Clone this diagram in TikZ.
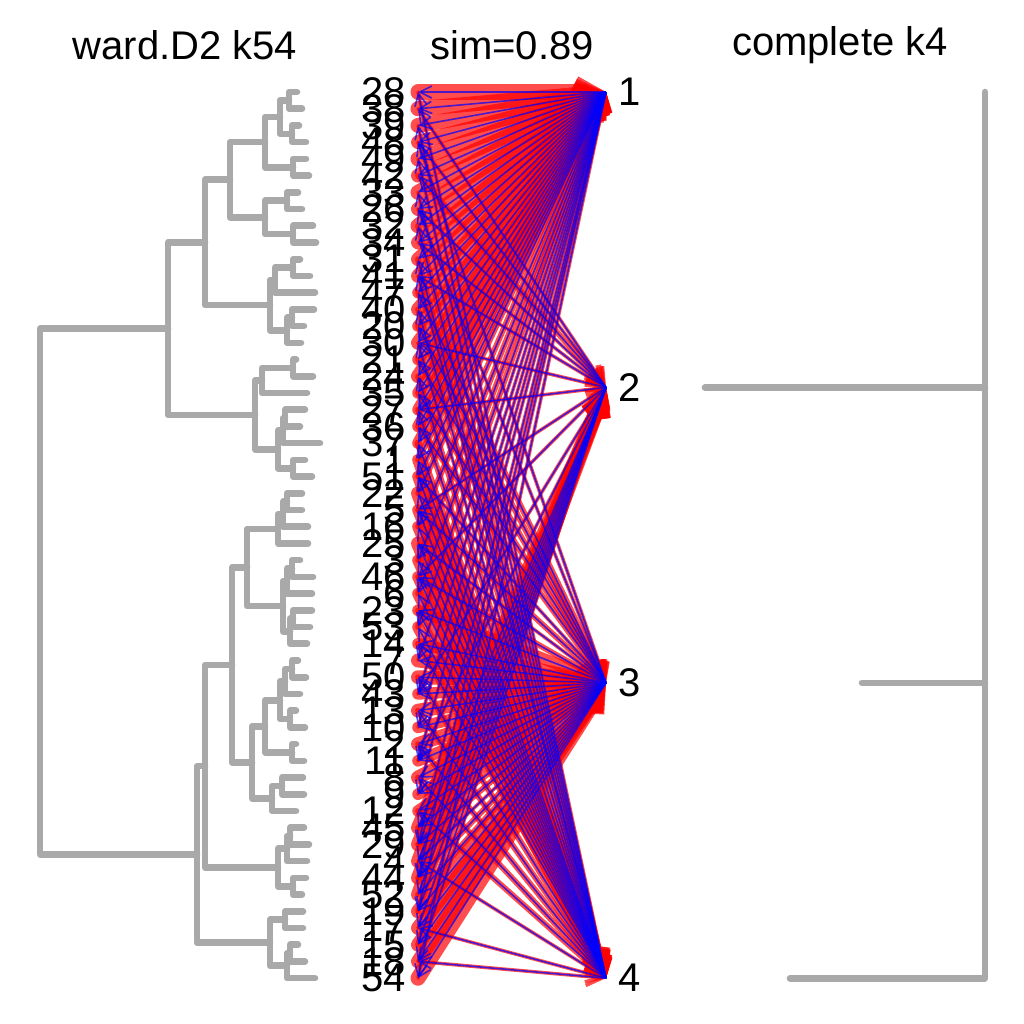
\documentclass[tikz,border=0pt]{standalone}
\usepackage{fontspec}
\setmainfont{Liberation Sans}
\usetikzlibrary{arrows.meta,calc}
\definecolor{dgray}{HTML}{A9A9A9}

\newcommand\dmerge[4]{%
  \path (#3) -- (#4) coordinate[midway] (h#1);
  \coordinate (#1) at (#2,0 |- h#1);
  \draw[dend] (#3) -| (#1) |- (#4);}

\def\edgelist{1/1/13,1/4/3,2/1/13,2/2/3,3/1/13,3/4/3,4/1/12,4/2/3,4/3/3,
5/1/13,5/4/3,6/1/12,6/2/5,7/1/13,7/4/3,8/1/12,8/2/3,8/3/3,9/1/13,9/4/5,
10/1/12,10/2/3,11/1/12,11/4/5,12/1/12,12/4/3,12/2/3,13/1/10,13/3/5,
14/1/12,14/4/5,15/1/10,15/3/5,16/1/12,16/4/3,16/2/3,17/1/10,17/3/5,
18/1/12,18/4/5,19/1/10,19/3/5,20/1/10,20/4/5,20/2/3,21/1/10,21/3/5,
22/1/10,22/4/6,23/4/10,23/1/5,24/4/10,24/1/5,24/3/3,25/4/12,25/1/5,
26/4/10,26/3/5,26/2/3,27/4/10,27/1/5,28/4/12,28/3/3,29/4/10,29/1/5,
30/4/10,30/3/5,30/2/3,31/4/10,31/1/5,32/3/10,32/4/5,33/4/10,33/1/5,
34/3/10,34/4/5,35/3/12,35/1/3,36/3/12,36/4/5,37/3/10,37/1/3,37/2/3,
38/3/12,38/4/5,39/3/10,39/1/3,40/3/12,40/4/5,41/3/10,41/1/3,41/2/3,
42/3/12,42/4/5,43/3/10,43/1/3,44/3/10,44/4/5,45/2/12,45/3/5,
46/2/12,46/3/5,46/1/3,47/2/12,47/3/3,47/4/3,48/2/12,48/3/5,48/1/3,
49/2/12,49/3/5,50/3/12,50/2/5,50/1/3,51/3/12,51/2/3,51/4/3,
52/3/12,52/2/5,53/3/12,53/2/3,53/4/3,54/3/13,54/1/3}

\begin{document}
\begin{tikzpicture}
[x=0.5pt, y=-0.5pt,
lab/.style = {font=\fontsize{20}{22}\selectfont, inner sep=0pt},
dend/.style = {draw=dgray, line width=3.3pt, line cap=round, line join=round},
redln/.style = {draw=red, opacity=0.7, line cap=round, line join=round,
  -{Straight Barb[length=8pt,width=9pt]}},
blueln/.style = {draw=blue, opacity=0.7, line width=0.8pt,
  -{Straight Barb[length=6pt,width=6pt]}}]
\useasboundingbox (0,0) rectangle (1024,1024);

\node[lab] (tl) at (185,45) {ward.D2 k54};
\node[lab] (tm) at (512,45) {sim=0.89};
\node[lab] (tr) at (840,45) {complete k4};

\foreach \tx/\lb [count=\k] in {297/28,302/38,299/39,306/48,306/49,309/42,
298/33,302/26,313/32,316/34,300/31,310/41,315/47,314/40,304/20,301/30,
296/21,313/24,307/35,305/27,300/36,320/37,305/1,312/51,302/22,302/5,
308/16,308/25,300/3,313/46,312/6,312/23,310/53,307/14,298/7,306/50,
300/43,296/13,305/10,296/2,304/11,303/8,304/9,296/12,304/45,309/29,
307/4,306/44,302/52,303/19,303/17,298/15,305/18,315/54}
{
\pgfmathsetmacro\yy{92+(\k-1)*16.72}
\coordinate (t\k) at (\tx,\yy);
\coordinate (L\k) at (418,\yy);
\node[lab, anchor=east] (n\k) at (406,\yy) {\lb};
}

\foreach \m/\x/\a/\b in {m1/289/t1/t2,m2/292/t3/t4,m3/280/m1/m2,
m4/293/t5/t6,m5/265/m3/m4,m6/287/t7/t8,m7/293/t9/t10,m8/265/m6/m7,
m9/230/m5/m8,m10/293/t11/t12,m11/275/m10/t13,m12/292/t14/t15,
m13/287/m12/t16,m14/270/m11/m13,m15/205/m9/m14,m16/293/t17/t18,
m17/262/m16/t19,m18/285/t20/t21,m19/283/m18/t22,m20/293/t23/t24,
m21/278/m19/m20,m22/255/m17/m21,m23/168/m15/m22,
m24/287/t25/t26,m25/283/m24/t27,m26/278/m25/t28,m27/292/t29/t30,
m28/287/m27/t31,m29/293/t32/t33,m30/290/m29/t34,m31/283/m28/m30,
m32/247/m26/m31,m33/292/t35/t36,m34/285/m33/t37,m35/290/t38/t39,
m36/280/m34/m35,m37/292/t40/t41,m38/265/m36/m37,m39/282/t42/t43,
m40/272/m39/t44,m41/252/m38/m40,m42/232/m32/m41,m43/290/t45/t46,
m44/287/m43/t47,m45/293/t48/t49,m46/278/m44/m45,m47/205/m42/m46,
m48/285/t50/t51,m49/290/t52/t53,m50/287/m49/t54,m51/270/m48/m50,
m52/197/m47/m51,m53/40/m23/m52}
{\dmerge{\m}{\x}{\a}{\b}}

\foreach \c in {1,...,4}{
\pgfmathsetmacro\yy{92+(\c-1)*295.4}
\coordinate (R\c) at (606,\yy);
\node[lab, anchor=west] (c\c) at (618,\yy) {\c};
}

\foreach \k/\c/\w in \edgelist {\draw[redln, line width=\w*0.58pt] (L\k) -- (R\c);}
\foreach \k/\c/\w in \edgelist {\draw[blueln] (R\c) -- (L\k);}

\coordinate (d1) at (985,92);
\coordinate (d2) at (705,387.4);
\coordinate (d3) at (862,682.8);
\coordinate (d4) at (790,978.2);
\draw[dend] (d1) |- (d4);
\draw[dend] (d2) -- (d2 -| d1);
\draw[dend] (d3) -- (d3 -| d1);
\end{tikzpicture}
\end{document}
